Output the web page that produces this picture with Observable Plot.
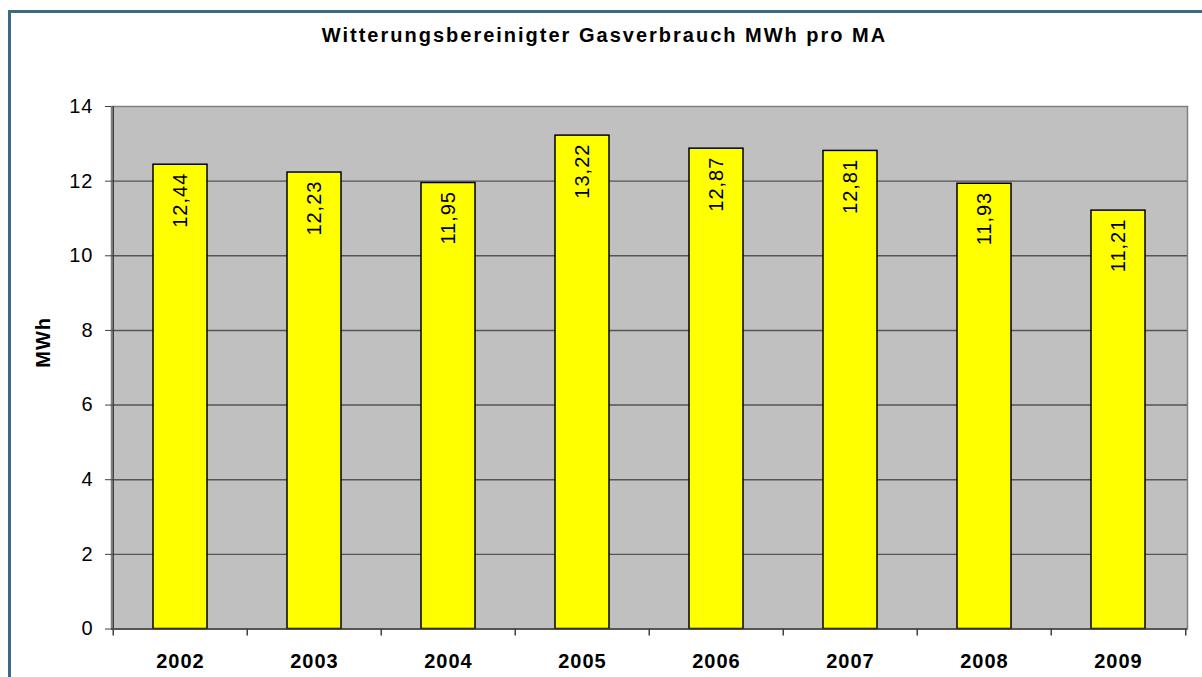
<!DOCTYPE html>
<html>
<head>
<meta charset="utf-8">
<script src="https://cdn.jsdelivr.net/npm/d3@7"></script>
<script src="https://cdn.jsdelivr.net/npm/@observablehq/plot@0.6"></script>
<style>
  html, body { margin: 0; padding: 0; background: #fff; overflow: hidden; }
  #wrap { position: relative; width: 1202px; height: 677px; }
  #border { position: absolute; left: 8px; top: 10px; width: 3000px; height: 3000px;
            border-left: 3px solid #3D6A82; border-top: 3px solid #3D6A82; box-sizing: border-box; }
  #title { position: absolute; left: 0; top: 25px; width: 1209px; text-align: center;
           font-family: "Liberation Sans", Arial, sans-serif; font-weight: bold; font-size: 20px;
           line-height: 20px; letter-spacing: 2px; color: #000; }
  #chart { position: absolute; left: 0; top: 0; }
  #chart svg text { letter-spacing: 1px; }
</style>
</head>
<body>
<div id="wrap">
  <div id="border"></div>
  <div id="chart"></div>
  <div id="title">Witterungsbereinigter Gasverbrauch MWh pro MA</div>
</div>
<script>
const years = ["2002", "2003", "2004", "2005", "2006", "2007", "2008", "2009"];
const values = [12.44, 12.23, 11.95, 13.22, 12.87, 12.81, 11.93, 11.21];
const yTicks = [0, 2, 4, 6, 8, 10, 12, 14];
const gridTicks = [2, 4, 6, 8, 10, 12];
const yLabel = "MWh";

const data = years.map((y, i) => ({year: y, value: values[i], label: values[i].toFixed(2).replace(".", ",")}));

const W = 1202, H = 677;
const mL = 111, mR = 15, mT = 106, mB = 48.5;
const step = (W - mL - mR) / years.length;

const chart = Plot.plot({
  width: W,
  height: H,
  marginLeft: mL,
  marginRight: mR,
  marginTop: mT,
  marginBottom: mB,
  style: {fontFamily: "'Liberation Sans', Arial, sans-serif", fontSize: "20px", color: "#000", background: "transparent"},
  x: {domain: years, paddingInner: 0.6, paddingOuter: 0.3, label: null},
  y: {domain: [0, 14], label: null},
  marks: [
    Plot.frame({fill: "#C0C0C0", stroke: "#808080", strokeWidth: 1.5}),
    Plot.gridY(gridTicks, {stroke: "#555555", strokeOpacity: 1, strokeWidth: 1.4}),
    Plot.barY(data, {x: "year", y: "value", fill: "#FFFF00", stroke: "#000", strokeWidth: 1.5}),
    Plot.text(data, {x: "year", y: "value", text: "label", rotate: -90, textAnchor: "end", dy: 8, fontSize: 20, fill: "#000"}),
    Plot.ruleX([years[0]], {dx: -step / 2, stroke: "#404040", strokeWidth: 1.5}),
    Plot.ruleY([0], {stroke: "#404040", strokeWidth: 1.5}),
    Plot.ruleX(years, {x: d => d, y1: 0, y2: 0, dx: -step / 2, insetBottom: -7, stroke: "#404040", strokeWidth: 1.5}),
    Plot.ruleX([years[years.length - 1]], {x: d => d, y1: 0, y2: 0, dx: step / 2, insetBottom: -7, stroke: "#404040", strokeWidth: 1.5}),
    Plot.axisY({ticks: yTicks, tickSize: 6, tickPadding: 12, fontSize: 20, stroke: "#404040", label: null}),
    Plot.axisX({tickSize: 0, tickPadding: 25, fontSize: 20, fontWeight: "bold", label: null}),
    Plot.text([yLabel], {frameAnchor: "left", rotate: -90, dx: -68, fontSize: 20, fontWeight: "bold", fill: "#000"})
  ]
});
document.getElementById("chart").appendChild(chart);
</script>
</body>
</html>
